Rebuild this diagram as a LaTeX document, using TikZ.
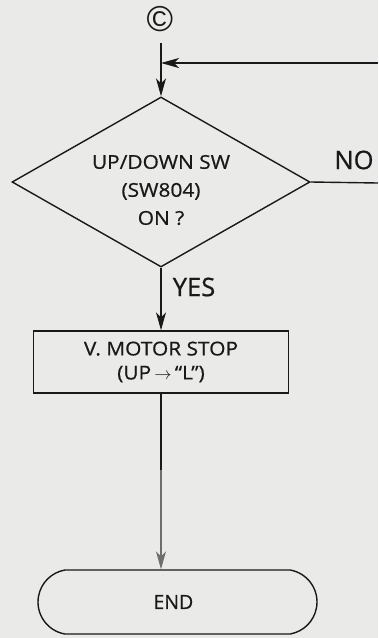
\documentclass[tikz,border=0pt]{standalone}
\usepackage{fontspec}
\setmainfont[FakeBold=0.7]{Open Sans}
\newfontfamily\widefont[FakeBold=0.7,FakeStretch=1.1]{Open Sans}
\newfontfamily\symfont{Liberation Sans}
\usetikzlibrary{arrows.meta,shapes.geometric,shapes.misc}
\definecolor{paper}{RGB}{234,234,232}
\definecolor{ink}{RGB}{25,25,25}
\definecolor{fadeink}{RGB}{110,110,110}
\tikzset{
  conn/.style={draw=ink, line width=1.4pt},
  tip/.style={-{Stealth[length=18pt,width=10pt,inset=5pt]}},
  decision/.style={draw=ink, line width=1.4pt, diamond, minimum width=298pt, minimum height=170pt, inner sep=0pt},
  procbox/.style={draw=ink, line width=1.4pt, rectangle, minimum width=255pt, minimum height=62pt, inner sep=0pt, align=center, font=\widefont\fontsize{19}{24}\selectfont},
  terminal/.style={draw=ink, line width=1.4pt, rounded rectangle, rounded rectangle arc length=160, minimum width=279pt, minimum height=64pt, inner sep=0pt, font=\fontsize{19.5}{23}\selectfont},
  lbl/.style={inner sep=0pt, font=\fontsize{25.5}{28}\selectfont, text=ink},
  inlbl/.style={inner sep=0pt, align=center, font=\widefont\fontsize{19}{28}\selectfont, text=ink},
}
\begin{document}
\begin{tikzpicture}[x=1pt,y=-1pt]
  \fill[paper] (0,0) rectangle (378,638);
  \useasboundingbox (0,0) rectangle (378,638);

  \node[inner sep=0pt, font=\symfont\fontsize{36}{36}\selectfont, text=ink] (copy) at (160,19) {©};
  \coordinate (ctop) at (161,43);
  \coordinate (join) at (161,63);
  \coordinate (loopin) at (378,63);

  \node[decision] (dia) at (161,182) {};
  \node[inlbl] (diatext) at (161,190) {UP/DOWN SW\\(SW804)\\ON ?};
  \coordinate (noend) at (378,183);

  \node[procbox, text=ink] (stop) at (161,362) {V. MOTOR STOP\\(UP\,\(\rightarrow\)\,“L”)};
  \coordinate (fade) at (161,470);

  \node[terminal, text=ink, text width=48pt, align=left] (end) at (177.5,602) {END};

  \node[lbl] (no) at (354,160) {NO};
  \node[lbl] (yes) at (194,287) {YES};

  \draw[conn, tip] (ctop) -- (dia.north);
  \draw[conn, tip] (loopin) -- (join);
  \draw[conn] (dia.east) -- (noend);
  \draw[conn, tip] (dia.south) -- (stop.north);
  \draw[conn] (stop.south) -- (fade);
  \draw[conn, draw=fadeink, tip] (fade) -- (fade |- end.north);
\end{tikzpicture}
\end{document}
